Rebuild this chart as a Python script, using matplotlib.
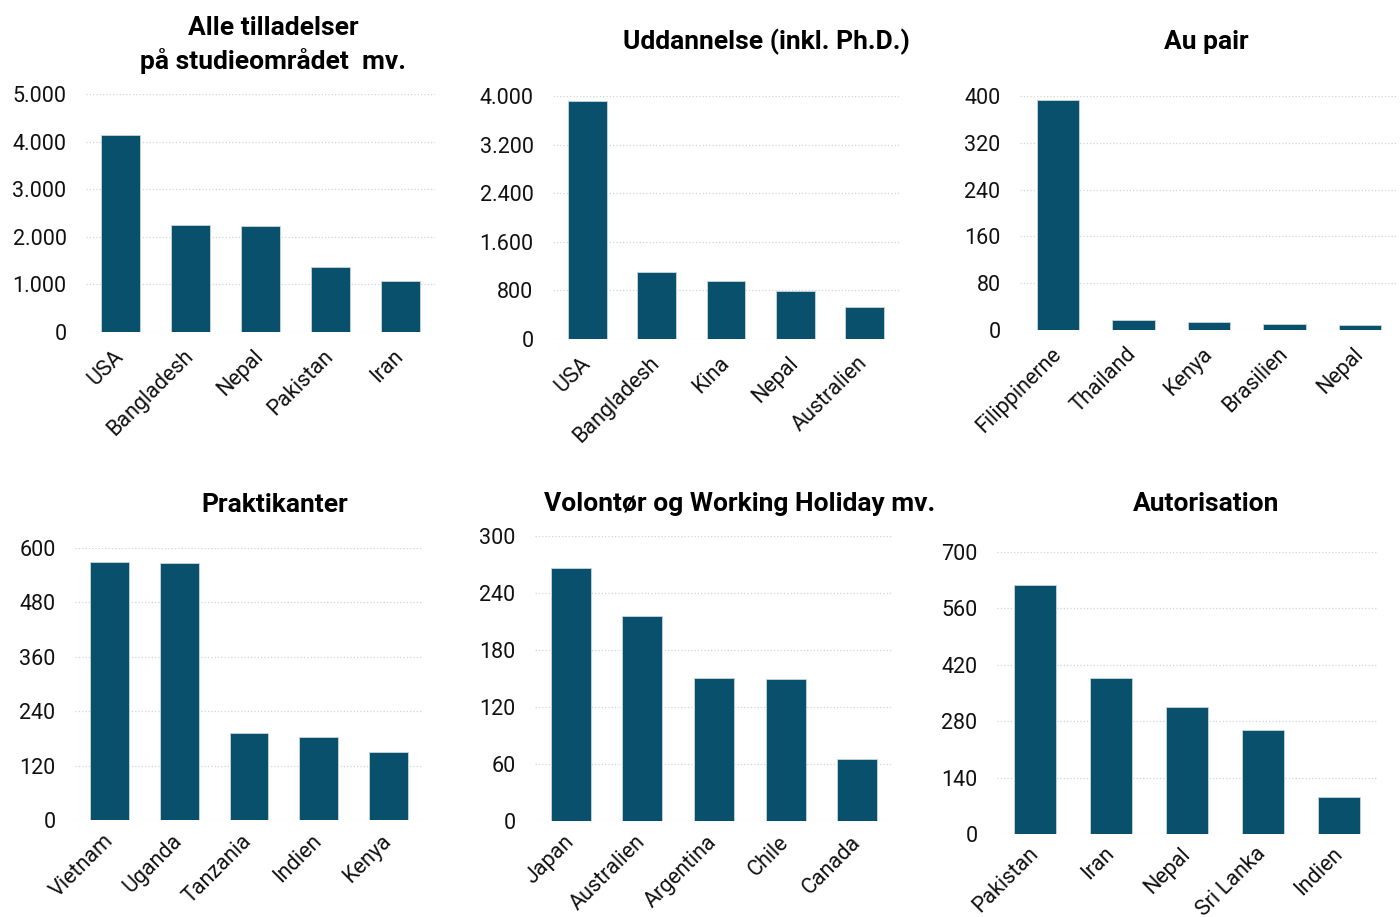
import matplotlib.pyplot as plt
from matplotlib.ticker import FuncFormatter

# Data
alle_lande = ["USA", "Bangladesh", "Nepal", "Pakistan", "Iran"]
alle_vaerdier = [4140, 2240, 2230, 1360, 1075]

udd_lande = ["USA", "Bangladesh", "Kina", "Nepal", "Australien"]
udd_vaerdier = [3910, 1110, 960, 795, 522]

aupair_lande = ["Filippinerne", "Thailand", "Kenya", "Brasilien", "Nepal"]
aupair_vaerdier = [393, 17, 14, 10, 9]

prakt_lande = ["Vietnam", "Uganda", "Tanzania", "Indien", "Kenya"]
prakt_vaerdier = [569, 567, 193, 184, 150]

vol_lande = ["Japan", "Australien", "Argentina", "Chile", "Canada"]
vol_vaerdier = [266, 216, 151, 149, 65]

aut_lande = ["Pakistan", "Iran", "Nepal", "Sri Lanka", "Indien"]
aut_vaerdier = [619, 388, 315, 259, 92]

titler = [
    "Alle tilladelser\npå studieområdet  mv.",
    "Uddannelse (inkl. Ph.D.)",
    "Au pair",
    "Praktikanter",
    "Volontør og Working Holiday mv.",
    "Autorisation",
]
y_maks = [5000, 4000, 400, 600, 300, 700]
y_trin = [1000, 800, 80, 120, 60, 140]

BAR_FARVE = "#08506c"
W, H = 1400, 917

plt.rcParams["font.family"] = ["Roboto", "DejaVu Sans"]

fig = plt.figure(figsize=(W / 100, H / 100), dpi=100)

# akse-bokse i pixels: venstre, højre, top (ymax), bund (nul)
bokse = [
    (86, 435, 94, 332),
    (553, 899, 96, 339),
    (1020, 1398, 96, 330),
    (75, 423, 548, 820),
    (535, 893, 536, 821),
    (997, 1377, 552, 834),
]
# titlernes midtpunkt i pixels
titel_pos = [(273, 45), (766, 42), (1206, 42), (275, 505), (740, 504), (1206, 504)]
x_pad = [15, 15, 15, 13, 13, 12]

data = [
    (alle_lande, alle_vaerdier),
    (udd_lande, udd_vaerdier),
    (aupair_lande, aupair_vaerdier),
    (prakt_lande, prakt_vaerdier),
    (vol_lande, vol_vaerdier),
    (aut_lande, aut_vaerdier),
]


def tusind(x, pos):
    return f"{int(x):,}".replace(",", ".")


for i, ((lande, vaerdier), (l, r, t, b)) in enumerate(zip(data, bokse)):
    ax = fig.add_axes([l / W, 1 - b / H, (r - l) / W, (b - t) / H])
    ax.bar(range(len(lande)), vaerdier, width=0.56, color=BAR_FARVE,
           edgecolor="#c9d6de", linewidth=0.6, zorder=3)
    ax.set_xlim(-0.5, len(lande) - 0.5)
    ax.set_ylim(0, y_maks[i])
    ax.set_yticks(range(0, y_maks[i] + 1, y_trin[i]))
    ax.yaxis.set_major_formatter(FuncFormatter(tusind))
    ax.set_xticks(range(len(lande)))
    ax.set_xticklabels(lande, rotation=45, ha="right", va="center",
                       rotation_mode="anchor")
    ax.tick_params(axis="y", length=0, pad=14, labelsize=15.5, colors="#111111")
    ax.tick_params(axis="x", length=0, pad=x_pad[i], labelsize=15.5, colors="#111111")
    for s in ax.spines.values():
        s.set_visible(False)
    ax.grid(axis="y", color="#d4d4d4", linestyle=":", linewidth=0.9, zorder=0)
    ax.set_axisbelow(True)

    tx, ty = titel_pos[i]
    fig.text(tx / W, 1 - ty / H, titler[i], ha="center", va="center",
             fontsize=19, fontweight="bold", linespacing=1.4)

fig.savefig("out.png", dpi=100)
